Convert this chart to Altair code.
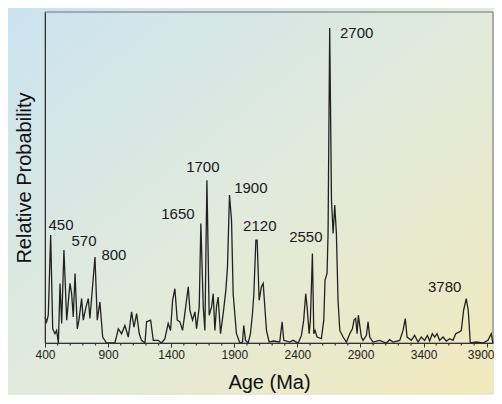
import altair as alt
import pandas as pd

# Detrital zircon age spectrum
ages = [400, 413, 426, 445, 461, 479, 492, 506, 519, 532, 550, 572, 598, 611, 624, 638, 656, 669,
        690, 703, 725, 743, 756, 796, 814, 835, 857, 888, 954, 981, 1007, 1033, 1060, 1086, 1105,
        1126, 1147, 1165, 1192, 1205, 1237, 1258, 1297, 1324, 1350, 1376, 1395, 1411, 1429, 1448,
        1469, 1490, 1508, 1535, 1548, 1569, 1588, 1601, 1622, 1635, 1654, 1667, 1683, 1701, 1720,
        1733, 1746, 1759, 1772, 1791, 1812, 1833, 1846, 1862, 1878, 1891, 1917, 1944, 1965, 1975,
        1989, 2010, 2028, 2044, 2055, 2071, 2081, 2097, 2115, 2129, 2142, 2155, 2176, 2208, 2260,
        2279, 2292, 2340, 2366, 2406, 2432, 2450, 2466, 2477, 2493, 2503, 2519, 2530, 2540, 2556,
        2590, 2609, 2619, 2635, 2643, 2656, 2670, 2683, 2696, 2709, 2722, 2736, 2762, 2788, 2815,
        2836, 2849, 2862, 2873, 2883, 2894, 2907, 2920, 2947, 2960, 2973, 2999, 3052, 3105, 3131,
        3158, 3211, 3237, 3255, 3269, 3303, 3329, 3356, 3382, 3408, 3430, 3448, 3469, 3488, 3506,
        3527, 3554, 3580, 3607, 3633, 3655, 3680, 3699, 3717, 3738, 3754, 3770, 3817, 3870, 3910,
        3936, 3949]
probs = [7.9, 6.4, 8.4, 32.6, 4.3, 2.8, 3.8, 0, 18.0, 5.9, 28.1, 6.9, 18.0, 14.9, 7.9, 21.0, 4.3, 6.9,
         13.4, 6.9, 10.9, 13.4, 7.4, 26.0, 6.9, 12.4, 1.8, 0, 0, 4.3, 2.8, 5.3, 1.8, 9.4, 4.8,
         8.9, 2.8, 0.8, 0, 6.4, 6.9, 0.8, 0.8, 0, 1.3, 5.9, 3.8, 12.9, 16.4, 6.9,
         6.4, 3.8, 8.9, 17.0, 9.9, 6.9, 9.4, 4.3, 10.9, 36.1, 10.9, 3.8, 49.2, 8.4, 10.9,
         14.9, 3.8, 10.9, 13.9, 2.8, 8.9, 15.9, 23.0, 44.7, 37.1, 14.9, 2.8, 0, 0.3, 5.3,
         0.8, 0, 2.8, 8.9, 14.9, 31.1, 31.1, 12.9, 17.0, 18.0, 10.9, 3.8, 0.3, 0.6, 0.3,
         6.4, 0.8, 0.3, 0.8, 0, 2.3, 6.9, 14.9, 10.9, 2.8, 6.9, 27.0, 2.8, 3.8, 1.8,
         1.3, 6.9, 19.0, 21.0, 33.1, 95.2, 43.2, 33.1, 41.7, 33.1, 12.9, 3.8, 1.8, 0.3, 2.8,
         4.3, 6.9, 7.4, 2.8, 8.4, 5.3, 1.8, 0.8, 2.3, 6.4, 1.8, 0.3, 0.8, 0, 1.0,
         0.3, 0.8, 3.8, 7.4, 1.8, 0.8, 2.3, 0.3, 1.8, 0.8, 2.3, 0.6, 2.8, 1.8, 2.8,
         0.8, 1.8, 0.6, 1.3, 0.8, 2.8, 3.3, 3.8, 9.9, 13.4, 9.9, 0, 0.3, 0, 0.8,
         2.8, 0]

# Peak annotations
peak_labels = ["450", "570", "800", "1650", "1700", "1900", "2120", "2550", "2700", "3780"]
label_x = [527, 709, 946, 1453, 1651, 2031, 2102, 2467, 2870, 3567]
label_y = [35.6, 30.8, 26.5, 38.9, 53.2, 46.8, 35.3, 32.0, 93.8, 16.9]

major_ticks = [400, 900, 1400, 1900, 2400, 2900, 3400, 3900]
minor_ticks = [v for v in range(400, 4000, 100) if v not in major_ticks]

W, H = 448, 331
FONT = "Liberation Sans"

df = pd.DataFrame({"age": ages, "prob": probs})
lab = pd.DataFrame({"text": peak_labels, "age": label_x, "prob": label_y})
minor_df = pd.DataFrame({"age": minor_ticks})

x_scale = alt.Scale(domain=[400, 3950], nice=False, zero=False)
y_scale = alt.Scale(domain=[0, 100], nice=False)

gradient = alt.LinearGradient(
    gradient="linear", x1=0, y1=0, x2=1, y2=1,
    stops=[alt.GradientStop(offset=0, color="#cbe3f0"),
           alt.GradientStop(offset=0.5, color="#e1eadc"),
           alt.GradientStop(offset=1, color="#f1e9bb")])

bg = alt.Chart(alt.Data(values=[{}])).mark_rect(fill=gradient, clip=False).encode(
    x=alt.value(-37), x2=alt.value(W + 1), y=alt.value(-4), y2=alt.value(H + 52))

line = alt.Chart(df).mark_line(color="#222222", strokeWidth=1.3).encode(
    x=alt.X("age:Q", scale=x_scale,
            axis=alt.Axis(title="Age (Ma)", values=major_ticks,
                          format="d", tickSize=4, labelPadding=2, titlePadding=12,
                          labelFontSize=12, titleFontSize=20, titleFontWeight="normal",
                          labelOverlap=False, labelFlush=False,
                          labelOffset={"condition": {"test": "datum.value == 3900", "value": -6},
                                       "value": 0},
                          domainColor="#333333", tickColor="#333333", labelColor="#222222",
                          titleColor="#111111", grid=False, zindex=1)),
    y=alt.Y("prob:Q", scale=y_scale,
            axis=alt.Axis(title="Relative Probability", labels=False, ticks=False, grid=False,
                          titlePadding=11, titleFontSize=20, titleFontWeight="normal",
                          domainColor="#333333", titleColor="#111111", zindex=1)),
)

minor = alt.Chart(minor_df).mark_rule(color="#333333", strokeWidth=1.2).encode(
    x=alt.X("age:Q", scale=x_scale), y=alt.value(H), y2=alt.value(H + 2.5))

text = alt.Chart(lab).mark_text(fontSize=15, font=FONT, color="#1a1a1a",
                                align="center", baseline="middle").encode(
    x=alt.X("age:Q", scale=x_scale), y=alt.Y("prob:Q", scale=y_scale), text="text:N")

frame = alt.Chart(alt.Data(values=[{}])).mark_rect(fillOpacity=0, stroke="#707070",
                                                   strokeWidth=1).encode(
    x=alt.value(0), x2=alt.value(W), y=alt.value(0), y2=alt.value(H))

chart = alt.layer(bg, frame, line, minor, text).properties(
    width=W, height=H,
    autosize=alt.AutoSizeParams(type="none"),
    padding={"left": 37, "top": 4, "right": 1, "bottom": 52},
).configure(font=FONT).configure_view(stroke=None)

chart.save("out.html", embed_options={"renderer": "svg", "actions": False})
